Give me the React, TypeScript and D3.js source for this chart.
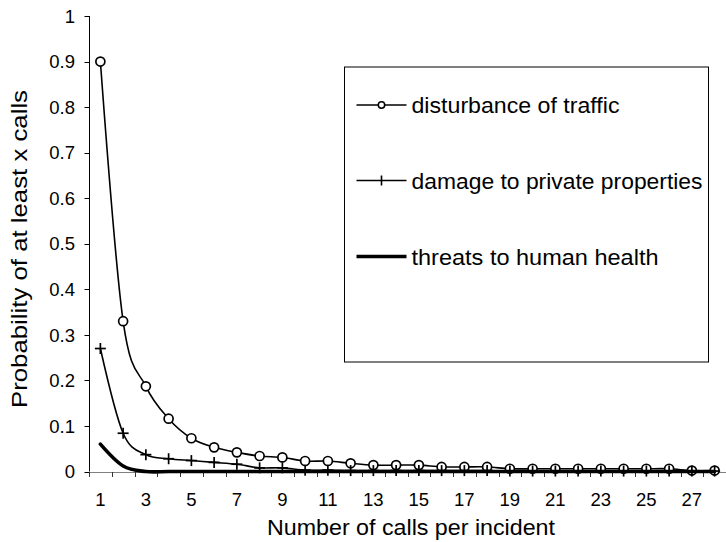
import React from "react";
import * as d3 from "d3";

const categories: string[] = Array.from({ length: 28 }, (_, i) => String(i + 1));

const trafficValues: number[] = [
  0.9, 0.33, 0.187, 0.116, 0.073, 0.053, 0.042, 0.034, 0.031, 0.023, 0.023, 0.018, 0.014, 0.014,
  0.014, 0.01, 0.01, 0.01, 0.006, 0.006, 0.006, 0.006, 0.006, 0.006, 0.006, 0.006, 0.002, 0.002,
];

const damageValues: number[] = [
  0.27, 0.084, 0.037, 0.028, 0.024, 0.02, 0.016, 0.008, 0.008, 0.003, 0.003, 0.002, 0.002, 0.002,
  0.002, 0.002, 0.002, 0.002, 0.001, 0.001, 0.001, 0.001, 0.001, 0.001, 0.001, 0.001, 0.001, 0.001,
];

const healthValues: number[] = [
  0.06, 0.012, 0, 0, 0, 0, 0, 0, 0, 0, 0, 0, 0, 0, 0, 0, 0, 0, 0, 0, 0, 0, 0, 0, 0, 0, 0, 0,
];

const yTicks: number[] = [0, 0.1, 0.2, 0.3, 0.4, 0.5, 0.6, 0.7, 0.8, 0.9, 1];
const xTickLabels: string[] = categories.filter((_, i) => i % 2 === 0);

const seriesNames = ["disturbance of traffic", "damage to private properties", "threats to human health"];

const W = 726;
const H = 542;
const FONT = "'Liberation Sans', Arial, Helvetica, sans-serif";

export default function App() {
  const x = d3.scaleBand<string>().domain(categories).range([89, 726]).padding(0);
  const y = d3.scaleLinear().domain([0, 1]).range([471.5, 16]);
  const cx = (c: string) => (x(c) as number) + x.bandwidth() / 2;

  const line = d3
    .line<number>()
    .x((_, i) => cx(categories[i]))
    .y((d) => y(d))
    .curve(d3.curveCardinal.tension(0));

  const boundaries = [...categories.map((c) => x(c) as number), 726];

  const legendX0 = 344;
  const legendY0 = 66.5;
  const legendW = 364;
  const legendH = 295;
  const legendRows = [105, 180.5, 256.5];
  const legendTextLen = [208, 291, 247];

  return (
    <svg
      width={W}
      height={H}
      style={{ position: "absolute", left: 0, top: 0, background: "#fff" }}
      fontFamily={FONT}
    >
      <rect x={0} y={0} width={W} height={H} fill="#fff" />

      {/* y axis */}
      <line x1={89.5} x2={89.5} y1={y(1)} y2={y(0)} stroke="#000" strokeWidth={1} />
      {yTicks.map((t) => (
        <g key={t}>
          <line x1={84.5} x2={89.5} y1={Math.round(y(t)) + 0.5} y2={Math.round(y(t)) + 0.5} stroke="#000" />
          <text x={75} y={y(t)} dy="0.36em" textAnchor="end" fontSize={18.5} fill="#000">
            {t === 0 ? "0" : t === 1 ? "1" : d3.format(".1f")(t)}
          </text>
        </g>
      ))}

      {/* x axis */}
      <line x1={89} x2={726} y1={Math.round(y(0)) + 0.5} y2={Math.round(y(0)) + 0.5} stroke="#808080" strokeWidth={1} />
      {boundaries.map((b, i) => (
        <line
          key={i}
          x1={Math.round(b) + 0.5}
          x2={Math.round(b) + 0.5}
          y1={Math.round(y(0))}
          y2={Math.round(y(0)) + 5}
          stroke="#333"
        />
      ))}
      {xTickLabels.map((c) => (
        <text key={c} x={cx(c)} y={506} textAnchor="middle" fontSize={18.5} fill="#000">
          {c}
        </text>
      ))}

      {/* axis titles */}
      <text x={411} y={535} textAnchor="middle" fontSize={22} textLength={288} lengthAdjust="spacingAndGlyphs">
        Number of calls per incident
      </text>
      <text
        transform={`translate(27,249) rotate(-90)`}
        textAnchor="middle"
        fontSize={22.5}
        textLength={318}
        lengthAdjust="spacingAndGlyphs"
      >
        Probability of at least x calls
      </text>

      {/* traffic series */}
      <path d={line(trafficValues) || ""} fill="none" stroke="#000" strokeWidth={1.6} />
      {trafficValues.map((v, i) => (
        <circle key={i} cx={cx(categories[i])} cy={y(v)} r={4.5} fill="#fff" stroke="#000" strokeWidth={1.7} />
      ))}

      {/* damage series */}
      <path d={line(damageValues) || ""} fill="none" stroke="#000" strokeWidth={1.6} />
      {damageValues.map((v, i) => {
        const px = cx(categories[i]);
        const py = y(v);
        return (
          <g key={i} stroke="#000" strokeWidth={1.7}>
            <line x1={px - 5.5} x2={px + 5.5} y1={py} y2={py} />
            <line x1={px} x2={px} y1={py - 5.5} y2={py + 5.5} />
          </g>
        );
      })}

      {/* health series */}
      <path d={line(healthValues) || ""} fill="none" stroke="#000" strokeWidth={3.6} strokeLinecap="round" />

      {/* legend */}
      <rect x={legendX0 + 0.5} y={legendY0 + 0.5} width={legendW} height={legendH} fill="#fff" stroke="#000" strokeWidth={1} />
      {seriesNames.map((name, i) => {
        const ly = legendRows[i];
        return (
          <g key={name}>
            <line
              x1={356.5}
              x2={406.5}
              y1={ly}
              y2={ly}
              stroke="#000"
              strokeWidth={i === 2 ? 3.6 : 1.6}
            />
            {i === 0 && <circle cx={381.5} cy={ly} r={3.2} fill="#fff" stroke="#000" strokeWidth={1.5} />}
            {i === 1 && <line x1={381.5} x2={381.5} y1={ly - 5} y2={ly + 5} stroke="#000" strokeWidth={1.6} />}
            <text
              x={411.5}
              y={ly}
              dy="0.36em"
              fontSize={22.5}
              textLength={legendTextLen[i]}
              lengthAdjust="spacingAndGlyphs"
            >
              {name}
            </text>
          </g>
        );
      })}
    </svg>
  );
}
